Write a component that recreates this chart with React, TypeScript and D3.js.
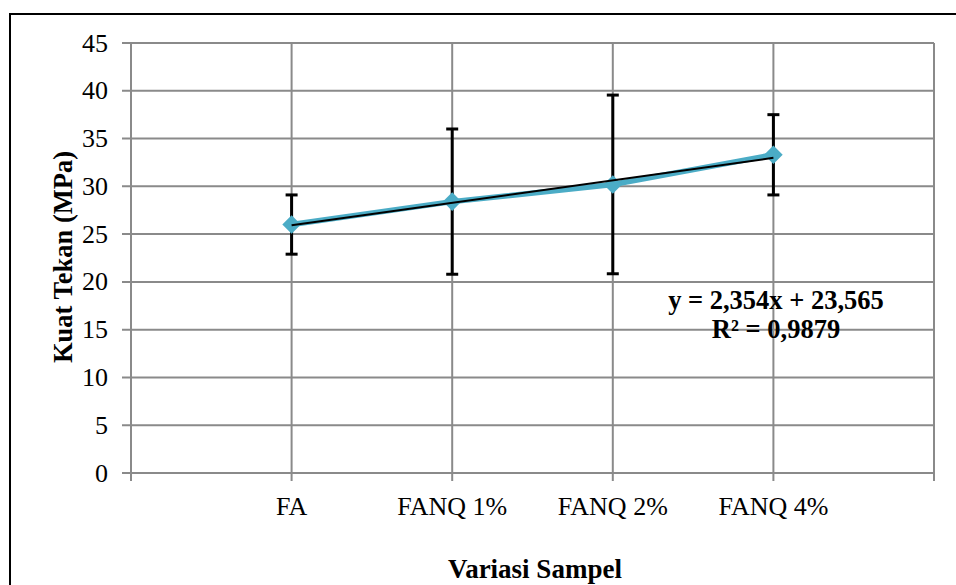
import { useEffect, useRef } from 'react';
import * as d3 from 'd3';

// sample variants and mean compressive strength (MPa)
const categories = ['FA', 'FANQ 1%', 'FANQ 2%', 'FANQ 4%'];
const means = [26.0, 28.4, 30.2, 33.3];
const errors = [3.1, 7.6, 9.35, 4.2];
const yTicks = [0, 5, 10, 15, 20, 25, 30, 35, 40, 45];
const trendSlope = 2.354;
const trendIntercept = 23.565;
const equationLines = ['y = 2,354x + 23,565', 'R² = 0,9879'];

const FONT = 'Liberation Serif, Times New Roman, serif';

function App() {
  const ref = useRef<SVGSVGElement>(null);

  useEffect(() => {
    const svg = d3.select(ref.current);
    svg.selectAll('*').remove();

    const width = 956;
    const height = 585;
    const plot = { left: 131, right: 934, top: 43, bottom: 473 };

    svg.attr('width', width).attr('height', height)
      .attr('font-family', FONT);

    // outer chart frame (right / bottom edges fall outside the picture)
    svg.append('rect')
      .attr('x', 10).attr('y', 14)
      .attr('width', 1000).attr('height', 700)
      .attr('fill', 'white')
      .attr('stroke', 'black')
      .attr('stroke-width', 2);

    // one empty slot before and after the categories
    const x = d3.scaleLinear()
      .domain([0, categories.length + 1])
      .range([plot.left, plot.right]);

    const y = d3.scaleLinear()
      .domain([0, 45])
      .range([plot.bottom, plot.top]);

    const grid = svg.append('g').attr('stroke', '#8a8a8a').attr('stroke-width', 2);
    const slots = d3.range(categories.length + 2);

    // horizontal gridlines + y ticks
    yTicks.forEach((t) => {
      grid.append('line')
        .attr('x1', plot.left - 9).attr('x2', plot.right)
        .attr('y1', y(t)).attr('y2', y(t));
    });

    // vertical gridlines + x ticks
    slots.forEach((s) => {
      grid.append('line')
        .attr('x1', x(s)).attr('x2', x(s))
        .attr('y1', plot.top).attr('y2', plot.bottom + 8);
    });

    // y tick labels
    svg.append('g')
      .selectAll('text')
      .data(yTicks)
      .enter()
      .append('text')
      .attr('x', 108)
      .attr('y', (d) => y(d))
      .attr('text-anchor', 'end')
      .attr('dominant-baseline', 'central')
      .attr('font-size', 26)
      .text((d) => d);

    // x tick labels
    svg.append('g')
      .selectAll('text')
      .data(categories)
      .enter()
      .append('text')
      .attr('x', (d, i) => x(i + 1))
      .attr('y', 515)
      .attr('text-anchor', 'middle')
      .attr('font-size', 26)
      .text((d) => d);

    // error bars
    const eb = svg.append('g').attr('stroke', 'black').attr('stroke-width', 3);
    means.forEach((m, i) => {
      const cx = x(i + 1);
      const lo = y(m - errors[i]);
      const hi = y(m + errors[i]);
      eb.append('line').attr('x1', cx).attr('x2', cx).attr('y1', lo).attr('y2', hi);
      eb.append('line').attr('x1', cx - 6).attr('x2', cx + 6).attr('y1', lo).attr('y2', lo);
      eb.append('line').attr('x1', cx - 6).attr('x2', cx + 6).attr('y1', hi).attr('y2', hi);
    });

    // data series
    const line = d3.line<number>()
      .x((d, i) => x(i + 1))
      .y((d) => y(d));

    svg.append('path')
      .datum(means)
      .attr('d', line)
      .attr('fill', 'none')
      .attr('stroke', '#4bacc6')
      .attr('stroke-width', 5.5);

    const diamond = d3.symbol().type(d3.symbolDiamond2).size(220);
    svg.append('g')
      .selectAll('path')
      .data(means)
      .enter()
      .append('path')
      .attr('d', diamond)
      .attr('transform', (d, i) => `translate(${x(i + 1)},${y(d)})`)
      .attr('fill', '#4bacc6');

    // linear trendline
    const trendX = [1, categories.length];
    svg.append('line')
      .attr('x1', x(trendX[0])).attr('y1', y(trendSlope * trendX[0] + trendIntercept))
      .attr('x2', x(trendX[1])).attr('y2', y(trendSlope * trendX[1] + trendIntercept))
      .attr('stroke', 'black')
      .attr('stroke-width', 2);

    // trendline equation
    svg.append('g')
      .selectAll('text')
      .data(equationLines)
      .enter()
      .append('text')
      .attr('x', 776)
      .attr('y', (d, i) => 309 + i * 29)
      .attr('text-anchor', 'middle')
      .attr('font-size', 26.5)
      .attr('font-weight', 'bold')
      .text((d) => d);

    // axis titles
    svg.append('text')
      .attr('x', 535)
      .attr('y', 578)
      .attr('text-anchor', 'middle')
      .attr('font-size', 27)
      .attr('font-weight', 'bold')
      .text('Variasi Sampel');

    svg.append('text')
      .attr('transform', 'translate(72, 257) rotate(-90)')
      .attr('text-anchor', 'middle')
      .attr('font-size', 26.5)
      .attr('font-weight', 'bold')
      .text('Kuat Tekan (MPa)');
  }, []);

  return <svg ref={ref} style={{ position: 'absolute', left: 0, top: 0 }}></svg>;
}

export default App;
